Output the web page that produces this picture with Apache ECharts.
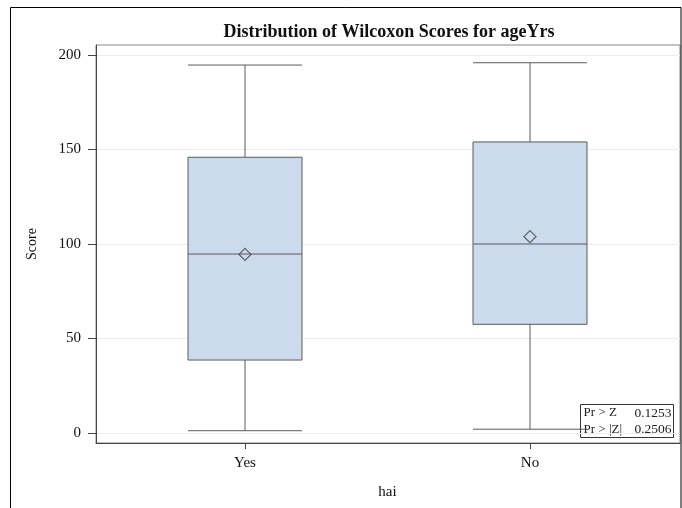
<!DOCTYPE html>
<html><head><meta charset="utf-8">
<script src="https://cdn.jsdelivr.net/npm/echarts@6/dist/echarts.min.js"></script>
<style>html,body{margin:0;padding:0;background:#fff}#c{width:682px;height:508px}</style>
</head><body><div id="c"></div>
<script>
const categories = ['Yes', 'No'];
const whiskerLow = [1.2, 2.0];
const q1 = [38.6, 57.5];
const median = [94.7, 100.0];
const q3 = [145.9, 154.0];
const whiskerHigh = [194.7, 195.9];
const means = [94.5, 103.9];
const yTicks = [0, 50, 100, 150, 200];
const statLabels = ['Pr > Z', 'Pr > |Z|'];
const statValues = ['0.1253', '0.2506'];

const FONT = '"Liberation Serif", "DejaVu Serif", serif';
const Y_MIN = -5.3, Y_MAX = 205.3;
const chart = echarts.init(document.getElementById('c'), null, {renderer: 'canvas'});

const boxData = categories.map((c, i) => [whiskerLow[i], q1[i], median[i], q3[i], whiskerHigh[i]]);
const meanData = categories.map((c, i) => [c, means[i]]);

const statChildren = [{
  type: 'rect', shape: {x: 0, y: 0, width: 93, height: 33},
  style: {fill: '#fff', stroke: '#333', lineWidth: 1}
}];
statLabels.forEach((s, i) => {
  statChildren.push({type: 'text', x: 3, y: 8.5 + i * 16.5, style: {text: s, font: '13px ' + FONT, fill: '#222', textVerticalAlign: 'middle'}});
  statChildren.push({type: 'text', x: 91, y: 8.5 + i * 16.5, style: {text: statValues[i], font: '13.5px ' + FONT, fill: '#222', textAlign: 'right', textVerticalAlign: 'middle'}});
});

chart.setOption({
  animation: false,
  title: {
    text: 'Distribution of Wilcoxon Scores for ageYrs',
    left: 384, top: 18, textAlign: 'center',
    textStyle: {fontFamily: FONT, fontSize: 18, fontWeight: 'bold', color: '#111'}
  },
  grid: [
    {left: 96, right: 2, top: 45, bottom: 65, show: true, borderColor: '#888', borderWidth: 1, backgroundColor: 'transparent'},
    {left: 102.5, right: 9.5, top: 45, bottom: 65}
  ],
  xAxis: [{
    gridIndex: 0, type: 'value', min: 0, max: 1,
    axisLine: {show: true, onZero: false, lineStyle: {color: '#444'}},
    axisTick: {show: false}, axisLabel: {show: false}, splitLine: {show: false}
  }, {
    gridIndex: 1, type: 'category', data: categories,
    name: 'hai', nameLocation: 'middle', nameGap: 42,
    nameTextStyle: {fontFamily: FONT, fontSize: 15, color: '#111'},
    axisLine: {show: false, onZero: false},
    axisTick: {show: true, alignWithLabel: true, length: 6, lineStyle: {color: '#444'}},
    axisLabel: {fontFamily: FONT, fontSize: 15, color: '#111', margin: 13},
    splitLine: {show: false}
  }],
  yAxis: [{
    gridIndex: 0, type: 'value', min: Y_MIN, max: Y_MAX,
    name: 'Score', nameLocation: 'middle', nameGap: 57,
    nameTextStyle: {fontFamily: FONT, fontSize: 14, color: '#111'},
    axisLine: {show: true, lineStyle: {color: '#444'}},
    axisTick: {show: true, length: 8, customValues: yTicks, lineStyle: {color: '#444'}},
    axisLabel: {fontFamily: FONT, fontSize: 15, color: '#111', margin: 15, customValues: yTicks},
    splitLine: {show: true, lineStyle: {color: '#ececec'}}
  }, {
    gridIndex: 1, type: 'value', min: Y_MIN, max: Y_MAX, show: false
  }],
  series: [{
    type: 'boxplot', xAxisIndex: 1, yAxisIndex: 1, data: boxData, boxWidth: [114, 114],
    itemStyle: {color: '#cbdaec', borderColor: '#5a5a5a', borderWidth: 1},
    emphasis: {disabled: true}
  }, {
    type: 'scatter', xAxisIndex: 1, yAxisIndex: 1, data: meanData, symbol: 'diamond', symbolSize: [12, 12],
    itemStyle: {color: 'rgba(0,0,0,0)', borderColor: '#444', borderWidth: 1.2},
    z: 5
  }],
  graphic: [{
    type: 'rect', shape: {x: 10.5, y: 7.5, width: 670.5, height: 520},
    style: {fill: null, stroke: '#000', lineWidth: 1}, silent: true
  }, {
    type: 'group', x: 580.5, y: 404.5, children: statChildren
  }]
});
</script></body></html>
